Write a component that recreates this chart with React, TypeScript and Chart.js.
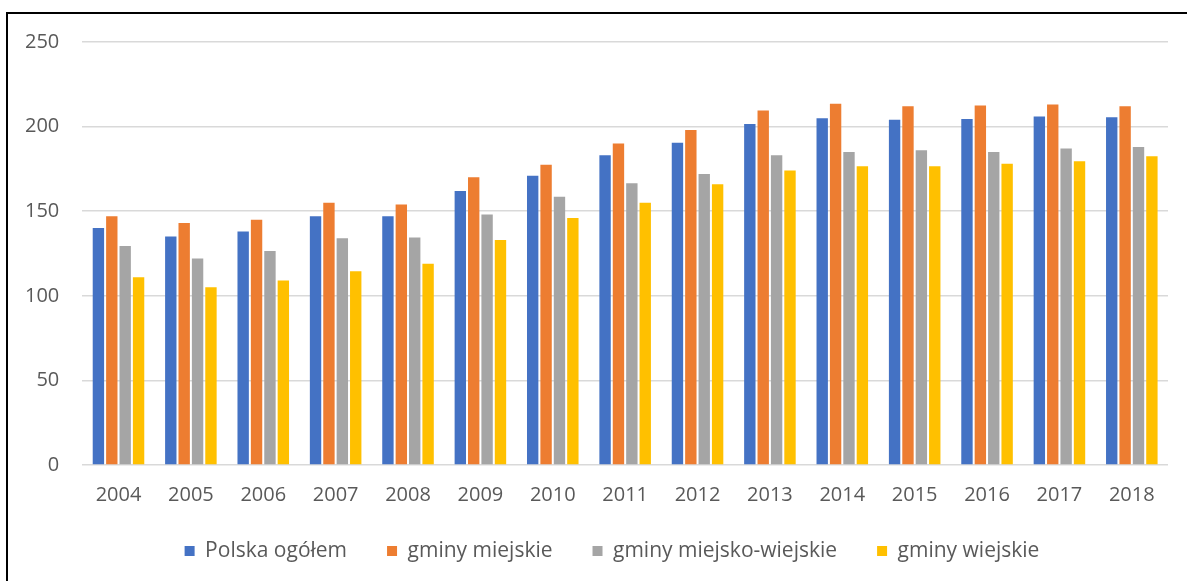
import React, { useEffect, useRef } from "react";
import { Chart, registerables } from "chart.js";

Chart.register(...registerables);

const years = ["2004","2005","2006","2007","2008","2009","2010","2011","2012","2013","2014","2015","2016","2017","2018"];
const polska = [140, 135, 138, 147, 147, 162, 171, 183, 190.5, 201.5, 205, 204, 204.5, 206, 205.5];
const miejskie = [147, 143, 145, 155, 154, 170, 177.5, 190, 198, 209.5, 213.5, 212, 212.5, 213, 212];
const miejskoWiejskie = [129.5, 122, 126.5, 134, 134.5, 148, 158.5, 166.5, 172, 183, 185, 186, 185, 187, 188];
const wiejskie = [111, 105, 109, 114.5, 119, 133, 146, 155, 166, 174, 176.5, 176.5, 178, 179.5, 182.5];
const seriesNames = ["Polska ogółem", "gminy miejskie", "gminy miejsko-wiejskie", "gminy wiejskie"];
const seriesColors = ["#4472C4", "#ED7D31", "#A5A5A5", "#FFC000"];
const yTicks = [0, 50, 100, 150, 200, 250];

const legendPlacer = {
  id: "legendPlacer",
  afterLayout(chart: any) {
    const lg = chart.legend;
    if (!lg) return;
    const h = lg.bottom - lg.top;
    lg.top = 500.5;
    lg.bottom = lg.top + h;
    lg.left += 27;
    lg.right += 27;
  },
};

export default function App() {
  const ref = useRef<HTMLCanvasElement | null>(null);
  useEffect(() => {
    if (!ref.current) return;
    const data = [polska, miejskie, miejskoWiejskie, wiejskie];
    const font = { family: "'Open Sans', sans-serif", size: 20 };
    const chart = new Chart(ref.current, {
      type: "bar",
      data: {
        labels: years,
        datasets: data.map((d, i) => ({
          label: seriesNames[i],
          data: d,
          backgroundColor: seriesColors[i],
          borderWidth: 0,
          barPercentage: 0.85,
          categoryPercentage: 0.74,
        })),
      },
      plugins: [legendPlacer],
      options: {
        animation: false,
        responsive: false,
        devicePixelRatio: 1,
        layout: { padding: { left: 2, top: 42, right: 19, bottom: 1 } },
        plugins: {
          tooltip: { enabled: false },
          legend: {
            position: "bottom",
            labels: {
              color: "#595959",
              font: { family: "'Open Sans', sans-serif", size: 21 },
              boxWidth: 10,
              boxHeight: 10,
              padding: 40,
            },
          },
        },
        scales: {
          x: {
            grid: { display: false, drawTicks: false },
            border: { display: false },
            ticks: { color: "#595959", font, padding: 18 },
            afterFit: (axis: any) => {
              axis.height = 44;
            },
          },
          y: {
            min: 0,
            max: 250,
            afterBuildTicks: (axis: any) => {
              axis.ticks = yTicks.map((v) => ({ value: v }));
            },
            grid: { color: "#d9d9d9", lineWidth: 1.5, drawTicks: false },
            border: { display: false },
            ticks: { color: "#595959", font, padding: 23 },
          },
        },
      },
    });
    return () => chart.destroy();
  }, []);
  return (
    <div style={{ position: "absolute", left: 0, top: 0, width: 1187, height: 581, overflow: "hidden", background: "#fff" }}>
      <div style={{ position: "absolute", left: 6, top: 12, width: 1181, height: 569, borderLeft: "2px solid #000", borderTop: "2px solid #000", boxSizing: "border-box" }} />
      <canvas ref={ref} width={1187} height={581} style={{ position: "absolute", left: 0, top: 0 }} />
    </div>
  );
}
